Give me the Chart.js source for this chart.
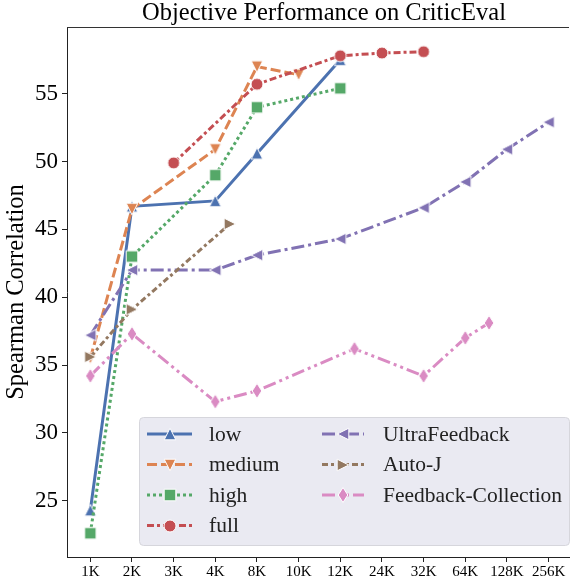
<!DOCTYPE html>
<html>
<head>
<meta charset="utf-8">
<script src="https://cdn.jsdelivr.net/npm/chart.js@4.4.1/dist/chart.umd.min.js"></script>
<style>
  html, body { margin: 0; padding: 0; background: #fff; }
  #wrap { width: 579px; height: 582px; }
</style>
</head>
<body>
<div id="wrap"><canvas id="chart" width="579" height="582"></canvas></div>
<script>
// categories on the x axis (evenly spaced, index positions)
const xLabels = ['1K', '2K', '3K', '4K', '8K', '10K', '12K', '24K', '32K', '64K', '128K', '256K'];
const yTicks = [25, 30, 35, 40, 45, 50, 55];

// series: x = position on the category index, y = Spearman correlation
const lowX = [0, 1, 3, 4, 6];
const lowY = [24.3, 46.7, 47.1, 50.6, 57.5];
const mediumX = [0, 1, 3, 4, 5];
const mediumY = [35.5, 46.5, 50.9, 57.0, 56.4];
const highX = [0, 1, 3, 4, 6];
const highY = [22.6, 43.0, 49.0, 54.0, 55.4];
const fullX = [2, 4, 6, 7, 8];
const fullY = [49.9, 55.7, 57.8, 58.0, 58.1];
const ultraX = [0, 1, 3, 4, 6, 8, 9, 10, 11];
const ultraY = [37.2, 42.0, 42.0, 43.1, 44.3, 46.6, 48.5, 50.9, 52.9];
const autojX = [0, 1, 3.35];
const autojY = [35.6, 39.1, 45.4];
const fcX = [0, 1, 3, 4, 6.34, 8, 9, 9.57];
const fcY = [34.2, 37.3, 32.3, 33.1, 36.2, 34.2, 37.0, 38.1];

const FONT = "'Liberation Serif', 'Times New Roman', serif";

function makeMarker(shape, color) {
    const s = 20;
    const c = document.createElement('canvas');
    c.width = s; c.height = s;
    const g = c.getContext('2d');
    g.translate(s / 2, s / 2);
    g.beginPath();
    const a = 5.8;
    if (shape === 'circle') {
        g.arc(0, 0, 6, 0, Math.PI * 2);
    } else if (shape === 'square') {
        g.rect(-5.8, -5.8, 11.6, 11.6);
    } else if (shape === 'up') {
        g.moveTo(0, -a); g.lineTo(a, a); g.lineTo(-a, a); g.closePath();
    } else if (shape === 'down') {
        g.moveTo(0, a); g.lineTo(a, -a); g.lineTo(-a, -a); g.closePath();
    } else if (shape === 'left') {
        g.moveTo(-a, 0); g.lineTo(a, -a); g.lineTo(a, a); g.closePath();
    } else if (shape === 'right') {
        g.moveTo(a, 0); g.lineTo(-a, -a); g.lineTo(-a, a); g.closePath();
    } else if (shape === 'diamond') {
        g.moveTo(0, -7.5); g.lineTo(4.8, 0); g.lineTo(0, 7.5); g.lineTo(-4.8, 0); g.closePath();
    }
    g.fillStyle = color;
    g.fill();
    g.lineWidth = 1;
    g.strokeStyle = '#ffffff';
    g.stroke();
    return c;
}

function pts(xs, ys) {
    return xs.map((x, i) => ({ x: x, y: ys[i] }));
}

const series = [
    { name: 'low', data: pts(lowX, lowY), color: '#4C72B0', dash: [], marker: 'up' },
    { name: 'medium', data: pts(mediumX, mediumY), color: '#DD8452', dash: [10, 4], marker: 'down' },
    { name: 'high', data: pts(highX, highY), color: '#55A868', dash: [3, 3], marker: 'square' },
    { name: 'full', data: pts(fullX, fullY), color: '#C44E52', dash: [7, 3, 3, 3], marker: 'circle' },
    { name: 'UltraFeedback', data: pts(ultraX, ultraY), color: '#8172B3', dash: [13, 4, 3, 4], marker: 'left' },
    { name: 'Auto-J', data: pts(autojX, autojY), color: '#937860', dash: [6, 3, 3, 3], marker: 'right' },
    { name: 'Feedback-Collection', data: pts(fcX, fcY), color: '#DA8BC3', dash: [13, 4, 3, 4, 3, 4], marker: 'diamond' }
];
series.forEach(s => { s.img = makeMarker(s.marker, s.color); });

const datasets = series.map((s, i) => ({
    label: s.name,
    data: s.data,
    borderColor: s.color,
    backgroundColor: s.color,
    borderWidth: 3,
    borderDash: s.dash,
    borderCapStyle: 'butt',
    pointStyle: s.img,
    pointRadius: 7,
    showLine: true,
    tension: 0,
    order: series.length - i
}));

// title, top spine and the legend box
const extras = {
    id: 'extras',
    afterDraw(chart) {
        const ctx = chart.ctx;
        const a = chart.chartArea;
        ctx.save();
        ctx.strokeStyle = '#333';
        ctx.lineWidth = 1;
        ctx.beginPath();
        ctx.moveTo(a.left, a.top + 0.5);
        ctx.lineTo(a.right, a.top + 0.5);
        ctx.stroke();

        ctx.fillStyle = '#000';
        ctx.font = '24.5px ' + FONT;
        ctx.textAlign = 'center';
        ctx.textBaseline = 'middle';
        ctx.fillText('Objective Performance on CriticEval', 324, 14);

        // legend
        const bx = 139.5, by = 417.5, bw = 430, bh = 128, r = 4;
        ctx.beginPath();
        ctx.moveTo(bx + r, by);
        ctx.arcTo(bx + bw, by, bx + bw, by + bh, r);
        ctx.arcTo(bx + bw, by + bh, bx, by + bh, r);
        ctx.arcTo(bx, by + bh, bx, by, r);
        ctx.arcTo(bx, by, bx + bw, by, r);
        ctx.closePath();
        ctx.fillStyle = '#eaeaf2';
        ctx.fill();
        ctx.strokeStyle = '#d6d6dc';
        ctx.stroke();

        ctx.font = '21.5px ' + FONT;
        ctx.textAlign = 'left';
        series.forEach((s, i) => {
            const col = i < 4 ? 0 : 1;
            const row = i < 4 ? i : i - 4;
            const x0 = col === 0 ? 147 : 322;
            const x1 = col === 0 ? 192 : 364;
            const tx = col === 0 ? 209 : 383;
            const y = 434 + row * 30.5;
            ctx.save();
            ctx.strokeStyle = s.color;
            ctx.lineWidth = 3;
            ctx.lineCap = 'butt';
            ctx.setLineDash(s.dash);
            ctx.beginPath();
            ctx.moveTo(x0, y);
            ctx.lineTo(x1, y);
            ctx.stroke();
            ctx.restore();
            ctx.drawImage(s.img, Math.round((x0 + x1) / 2) - 10, Math.round(y) - 10);
            ctx.fillStyle = '#222';
            ctx.fillText(s.name, tx, y + 1);
        });
        ctx.restore();
    }
};

new Chart(document.getElementById('chart'), {
    type: 'line',
    data: { datasets: datasets },
    options: {
        responsive: false,
        animation: false,
        layout: { padding: { top: 27, left: 0, right: 0, bottom: 0 } },
        plugins: {
            legend: { display: false },
            title: { display: false },
            tooltip: { enabled: false }
        },
        scales: {
            x: {
                type: 'linear',
                min: -0.56,
                max: 11.49,
                afterBuildTicks: (scale) => { scale.ticks = xLabels.map((l, i) => ({ value: i })); },
                afterFit: (scale) => { scale.height = 25; },
                ticks: {
                    autoSkip: false,
                    maxRotation: 0,
                    padding: 1,
                    color: '#000',
                    font: { family: FONT, size: 15 },
                    callback: (v) => xLabels[v]
                },
                grid: { display: true, drawOnChartArea: false, drawTicks: true, tickLength: 5, color: '#222' },
                border: { display: true, color: '#222', width: 1 }
            },
            y: {
                type: 'linear',
                min: 20.85,
                max: 59.92,
                afterBuildTicks: (scale) => { scale.ticks = yTicks.map(v => ({ value: v })); },
                afterFit: (scale) => { scale.width = 67; },
                ticks: {
                    padding: 4,
                    color: '#000',
                    font: { family: FONT, size: 23 }
                },
                grid: { display: true, drawOnChartArea: false, drawTicks: true, tickLength: 5, color: '#222' },
                border: { display: true, color: '#222', width: 1 },
                title: {
                    display: true,
                    text: 'Spearman Correlation',
                    color: '#000',
                    font: { family: FONT, size: 24.5 },
                    padding: { top: 2, bottom: 0 }
                }
            }
        }
    },
    plugins: [extras]
});
</script>
</body>
</html>
